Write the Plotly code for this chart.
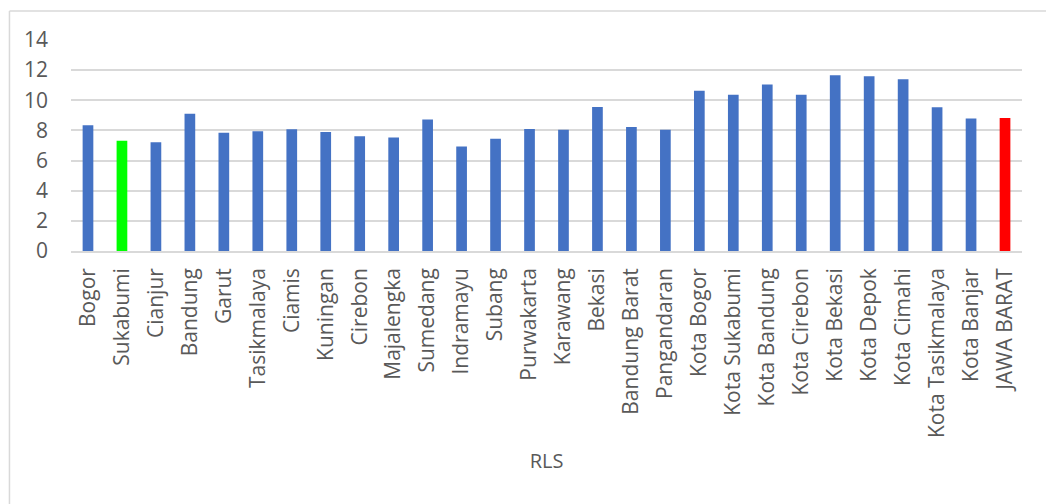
import plotly.graph_objects as go

categories = ["Bogor", "Sukabumi", "Cianjur", "Bandung", "Garut", "Tasikmalaya", "Ciamis",
              "Kuningan", "Cirebon", "Majalengka", "Sumedang", "Indramayu", "Subang",
              "Purwakarta", "Karawang", "Bekasi", "Bandung Barat", "Pangandaran",
              "Kota Bogor", "Kota Sukabumi", "Kota Bandung", "Kota Cirebon", "Kota Bekasi",
              "Kota Depok", "Kota Cimahi", "Kota Tasikmalaya", "Kota Banjar", "JAWA BARAT"]
rls_values = [8.35, 7.31, 7.22, 9.10, 7.84, 7.95, 8.08, 7.89, 7.62, 7.53, 8.72, 6.93, 7.44,
              8.10, 8.04, 9.56, 8.22, 8.04, 10.64, 10.36, 11.04, 10.36, 11.66, 11.59, 11.40,
              9.54, 8.79, 8.83]
y_ticks = [0, 2, 4, 6, 8, 10, 12, 14]

BLUE = "#4472C4"
highlight = {"Sukabumi": "#00FF00", "JAWA BARAT": "#FF0000"}
colors = [highlight.get(c, BLUE) for c in categories]

FONT = "Open Sans"
GRAY = "#595959"

fig = go.Figure(go.Bar(
    x=categories, y=rls_values, marker_color=colors, width=0.315,
    marker_line_width=0,
))

fig.update_layout(
    width=1054, height=504,
    margin=dict(l=63, r=40, t=32, b=261, autoexpand=False),
    paper_bgcolor="white", plot_bgcolor="white",
    font=dict(family=FONT, color=GRAY, size=20),
    showlegend=False,
    xaxis=dict(
        tickangle=-90, tickfont=dict(size=21, color=GRAY, family=FONT),
        showgrid=False, showline=True, linecolor="#D9D9D9", linewidth=1.5,
        ticks="", ticklabelstandoff=7, automargin=False,
        title=dict(text="RLS", font=dict(size=20, color=GRAY, family=FONT), standoff=17),
    ),
    yaxis=dict(
        range=[0, 14], tickvals=y_ticks, tickfont=dict(size=21, color=GRAY, family=FONT),
        showgrid=True, gridcolor="#D9D9D9", gridwidth=1.5,
        zeroline=False, ticks="", ticklabelstandoff=22, automargin=False,
    ),
    shapes=[
        dict(type="line", xref="paper", yref="paper", x0=-0.0647, x1=1.1, y0=1.137, y1=1.137,
             line=dict(color="#D9D9D9", width=1.5)),
        dict(type="line", xref="paper", yref="paper", x0=-0.0647, x1=-0.0647, y0=1.137, y1=-1.3,
             line=dict(color="#D9D9D9", width=1.5)),
    ],
)

fig.write_html("out.html")
